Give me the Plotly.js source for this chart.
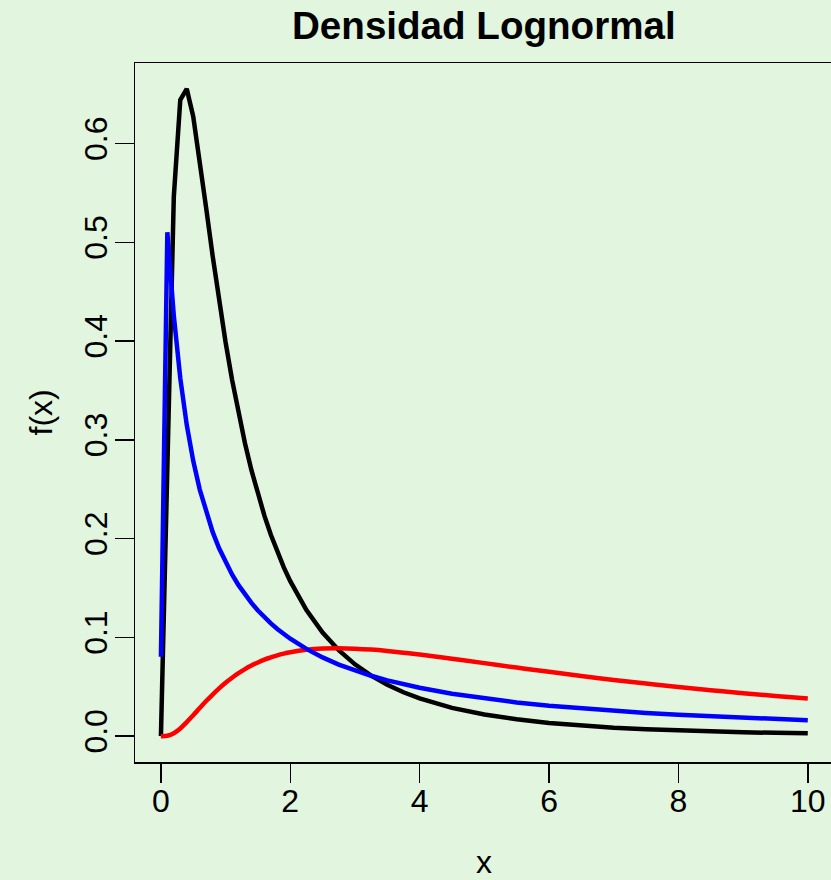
<!DOCTYPE html>
<html>
<head>
<meta charset="utf-8">
<script src="https://cdn.plot.ly/plotly-3.0.1.min.js"></script>
<style>
html,body{margin:0;padding:0;background:#E1F5DF;overflow:hidden;}
#chart{width:831px;height:880px;}
</style>
</head>
<body>
<div id="chart"></div>
<script>
// Sample points (x) and density values read for each curve
const xVals = [0.001,0.1,0.2,0.3,0.4,0.5,0.6,0.7,0.8,0.9,1.0,1.1,1.2,1.3,1.4,1.5,1.6,1.7,1.8,1.9,2.0,
  2.25,2.5,2.75,3.0,3.25,3.5,3.75,4.0,4.5,5,5.5,6,6.5,7,7.5,8,8.5,9,9.5,10];

// black curve (lognormal meanlog 0, sdlog 1)
const blackY = [0.0000,0.2816,0.5463,0.6442,0.6554,0.6275,0.5836,0.5348,0.4864,0.4408,0.3989,0.3610,0.3270,0.2965,0.2693,0.2450,0.2233,0.2039,0.1865,0.1709,0.1569,
  0.1276,0.1049,0.0870,0.0727,0.0613,0.0520,0.0444,0.0382,0.0286,0.0219,0.0170,0.0134,0.0107,0.0086,0.0070,0.0057,0.0048,0.0040,0.0033,0.0028];

// blue curve (lognormal meanlog 1, sdlog 2)
const blueY = [0.0804,0.5102,0.4258,0.3623,0.3151,0.2788,0.2499,0.2264,0.2068,0.1902,0.1760,0.1637,0.1529,0.1434,0.1349,0.1272,0.1204,0.1142,0.1085,0.1033,0.0986,
  0.0883,0.0797,0.0725,0.0664,0.0611,0.0565,0.0525,0.0490,0.0429,0.0381,0.0341,0.0307,0.0279,0.0255,0.0234,0.0216,0.0200,0.0185,0.0173,0.0161];

// red curve (lognormal meanlog 2, sdlog 1)
const redY = [0.0000,0.0004,0.0030,0.0078,0.0142,0.0212,0.0284,0.0355,0.0421,0.0483,0.0540,0.0591,0.0637,0.0678,0.0714,0.0746,0.0774,0.0797,0.0818,0.0835,0.0849,
  0.0874,0.0887,0.0890,0.0886,0.0876,0.0862,0.0845,0.0826,0.0784,0.0739,0.0694,0.0651,0.0609,0.0569,0.0532,0.0497,0.0465,0.0435,0.0407,0.0381];

const xTicks = [0,2,4,6,8,10];
const xTickText = ['0','2','4','6','8','10'];
const yTicks = [0,0.1,0.2,0.3,0.4,0.5,0.6];
const yTickText = ['0.0','0.1','0.2','0.3','0.4','0.5','0.6'];

const titleText = 'Densidad Lognormal';
const xLabel = 'x';
const yLabel = 'f(x)';

const bg = '#E1F5DF';
const fontFam = '"Liberation Sans", Arial, Helvetica, sans-serif';

const traces = [
  {x:xVals, y:blackY, type:'scatter', mode:'lines', line:{color:'#000000', width:4.5}, hoverinfo:'skip'},
  {x:xVals, y:redY, type:'scatter', mode:'lines', line:{color:'#FF0000', width:4.5, shape:'spline', smoothing:1}, hoverinfo:'skip'},
  {x:xVals, y:blueY, type:'scatter', mode:'lines', line:{color:'#0000FF', width:4.5}, hoverinfo:'skip'}
];

const layout = {
  width:831, height:880,
  paper_bgcolor:bg, plot_bgcolor:bg,
  showlegend:false,
  margin:{l:135, r:0, t:63, b:118, pad:0},
  font:{family:fontFam, size:32, color:'#000'},
  xaxis:{
    range:[-0.4, 10.359], showgrid:false, zeroline:false,
    showline:true, linecolor:'#000', linewidth:1.5, mirror:true,
    ticks:'outside', ticklen:19, tickwidth:1.5, tickcolor:'#000',
    tickvals:xTicks, ticktext:xTickText, ticklabelstandoff:-9,
    tickfont:{family:fontFam, size:32, color:'#000'}
  },
  yaxis:{
    range:[-0.0262, 0.6816], showgrid:false, zeroline:false,
    showline:true, linecolor:'#000', linewidth:1.5, mirror:false,
    ticks:'outside', ticklen:19, tickwidth:1.5, tickcolor:'#000',
    tickvals:yTicks, ticktext:yTickText, tickangle:-90, ticklabelstandoff:-5,
    tickfont:{family:fontFam, size:32, color:'#000'}
  },
  annotations:[
    {text:'<b>'+titleText+'</b>', xref:'paper', yref:'paper', x:0.502, y:(762-26)/699, xanchor:'center', yanchor:'middle', showarrow:false, font:{family:fontFam, size:38.6, color:'#000'}},
    {text:xLabel, xref:'paper', yref:'paper', x:0.502, y:(762-862)/699, xanchor:'center', yanchor:'middle', showarrow:false, font:{family:fontFam, size:32, color:'#000'}},
    {text:yLabel, xref:'paper', yref:'paper', x:(40-135)/696, y:0.5, xanchor:'center', yanchor:'middle', textangle:-90, showarrow:false, font:{family:fontFam, size:32, color:'#000'}}
  ]
};

Plotly.newPlot('chart', traces, layout, {displayModeBar:false, staticPlot:true});
</script>
</body>
</html>
